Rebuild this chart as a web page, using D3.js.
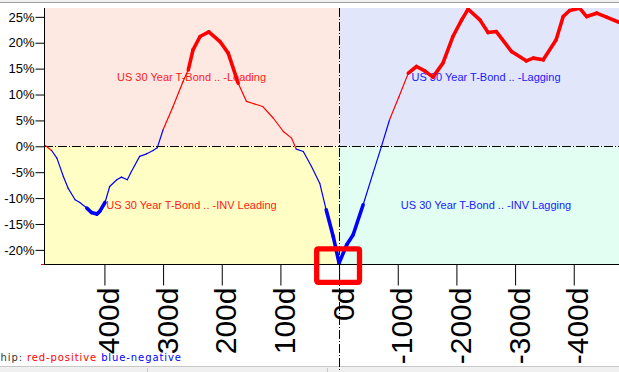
<!DOCTYPE html>
<html><head><meta charset="utf-8">
<script src="https://cdn.jsdelivr.net/npm/d3@7"></script>
<style>html,body{margin:0;padding:0;background:#fff;overflow:hidden}</style>
</head><body><svg id="c" width="619" height="372"></svg>
<script>
// ---- data (lag in days, correlation in %) ----
const lagDays = [501,490,481,470,462,450,442,430,422,413,408,399,391,379,371,361,354,340,328,317,310,300,283,266,257,249,237,222,203,189,172,158,144,130,112,95,81,73,61,47,33,22,10,0,-13,-24,-41,-58,-72,-86,-102,-118,-132,-146,-160,-177,-194,-209,-220,-240,-254,-268,-294,-319,-331,-348,-370,-382,-393,-410,-422,-439,-456,-476];
const corrPct = [0.15,-0.81,-2.28,-5.83,-8.07,-10.33,-10.85,-11.93,-12.78,-13.09,-12.57,-10.85,-7.76,-6.47,-5.95,-6.47,-4.86,-1.95,-1.45,-0.81,-0.3,3.19,7.68,12.51,14.77,18.63,21.2,22.1,20.23,17.99,12.19,8.68,8.17,7.68,5.42,2.86,1.58,-0.55,-1.0,-3.9,-7.12,-12.26,-17.41,-22.55,-19.02,-17.09,-11.29,-5.12,-0.1,5.12,9.56,14.13,15.41,14.58,13.36,16.06,21.2,24.42,26.48,24.42,21.97,22.16,18.3,16.51,17.03,16.7,20.56,25.06,26.22,26.67,25.06,25.71,24.94,24.0];
const significant = [0,0,0,0,0,0,0,1,1,1,1,1,0,0,0,0,0,0,0,0,0,0,0,0,1,1,1,1,1,1,1,0,0,0,0,0,0,0,0,0,0,1,1,1,1,1,1,0,0,0,0,1,1,1,1,1,1,1,1,1,1,1,1,1,1,1,1,1,1,1,1,1,1,1];
const yTickValues = [25,20,15,10,5,0,-5,-10,-15,-20];
const xTickValues = [400,300,200,100,0,-100,-200,-300,-400];
const quadrantLabels = ["US 30 Year T-Bond .. -Leading","US 30 Year T-Bond .. -Lagging","US 30 Year T-Bond .. -INV Leading","US 30 Year T-Bond .. -INV Lagging"];
const legendParts = ["Relationship: ","red-positive","blue-negative"];

const svg = d3.select("#c");
const W = 619, H = 372;
const L = 44, R = 633, T = 8, B = 264;
const x = d3.scaleLinear().domain([503, -501]).range([L, R]);
const y = d3.scaleLinear().domain([-22.73, 26.71]).range([B, T]);
const x0 = x(0), y0 = y(0);
const sans = "'Liberation Sans', Arial, sans-serif";

// window chrome
svg.append("rect").attr("x",0).attr("y",0).attr("width",W).attr("height",H).attr("fill","#fff");
svg.append("rect").attr("x",0).attr("y",0).attr("width",W).attr("height",2).attr("fill","#f0f0f0");
svg.append("line").attr("x1",0).attr("x2",W).attr("y1",2.5).attr("y2",2.5).attr("stroke","#a0a0a0");
svg.append("rect").attr("x",0).attr("y",367).attr("width",W).attr("height",5).attr("fill","#f0f0f0");
svg.append("line").attr("x1",0).attr("x2",W).attr("y1",366.5).attr("y2",366.5).attr("stroke","#c8c8c8");
[147.5, 327.5].forEach(px => svg.append("line").attr("x1",px).attr("x2",px).attr("y1",368).attr("y2",372).attr("stroke","#c8c8c8"));

// quadrants
const quads = [
  {x:L, y:T, w:x0-L, h:y0-T, c:"#fde9e1"},
  {x:x0, y:T, w:R-x0, h:y0-T, c:"#e1e6fb"},
  {x:L, y:y0, w:x0-L, h:B-y0, c:"#fffec4"},
  {x:x0, y:y0, w:R-x0, h:B-y0, c:"#e2fdf2"}
];
svg.selectAll("rect.q").data(quads).enter().append("rect").attr("class","q")
  .attr("x",d=>d.x).attr("y",d=>d.y).attr("width",d=>d.w).attr("height",d=>d.h).attr("fill",d=>d.c);

// quadrant labels
const lx = [(L+x0)/2, (x0+R)/2, (L+x0)/2, (x0+R)/2];
const ly = [81, 81, 209, 209];
const lc = ["#ff1a1a","#1a1aff","#ff1a1a","#1a1aff"];
quadrantLabels.forEach((t,i)=>{
  svg.append("text").attr("x",lx[i]).attr("y",ly[i]).attr("text-anchor","middle")
    .attr("font-family",sans).attr("font-size",11).attr("fill",lc[i]).text(t);
});

// reference lines
svg.append("line").attr("x1",L).attr("x2",R).attr("y1",Math.round(y0)+0.5).attr("y2",Math.round(y0)+0.5)
  .attr("stroke","#000").attr("stroke-dasharray","9,2,1,2");
svg.append("line").attr("x1",Math.round(x0)+0.5).attr("x2",Math.round(x0)+0.5).attr("y1",T).attr("y2",H)
  .attr("stroke","#000").attr("stroke-dasharray","9,2,1,2");

// curve
svg.append("clipPath").attr("id","pc").append("rect").attr("x",L).attr("y",T).attr("width",R-L).attr("height",B-T+2);
const g = svg.append("g").attr("clip-path","url(#pc)");
const pts = lagDays.map((d,i)=>({d, v:corrPct[i], s:significant[i]}));
const line = d3.line().x(p=>x(p.d)).y(p=>y(p.v));
const segs = [];
for (let i=0;i<pts.length-1;i++){
  segs.push({a:pts[i], b:pts[i+1], col: pts[i].v>=0 ? "#ff0000" : "#0000ff", thick: pts[i].s && pts[i+1].s});
}
segs.filter(s=>!s.thick).forEach(s=>{
  g.append("path").attr("d",line([s.a,s.b])).attr("fill","none").attr("stroke",s.col).attr("stroke-width",1.2).attr("stroke-linecap","round");
});
segs.filter(s=>s.thick).forEach(s=>{
  g.append("path").attr("d",line([s.a,s.b])).attr("fill","none").attr("stroke",s.col).attr("stroke-width",3.6).attr("stroke-linecap","round");
});

// y axis
const ya = svg.append("g").attr("transform",`translate(${L+0.5},0)`)
  .call(d3.axisLeft(y).tickValues(yTickValues).tickFormat(d=>d+"%").tickSize(9).tickPadding(1));
ya.select(".domain").remove();
ya.selectAll("line").attr("stroke","#000");
ya.selectAll("text").attr("font-family",sans).attr("font-size",13).attr("fill","#000");
svg.append("line").attr("x1",L+0.5).attr("x2",L+0.5).attr("y1",T).attr("y2",B).attr("stroke","#000");

// x axis
const xa = svg.append("g").attr("transform",`translate(0,${B+0.5})`)
  .call(d3.axisBottom(x).tickValues(xTickValues).tickFormat(d=>d+"d").tickSize(21));
xa.select(".domain").remove();
xa.selectAll("line").attr("stroke","#000");
xa.selectAll("text").attr("x",0).attr("y",0).attr("dy",0)
  .attr("transform","translate(14,23) rotate(-90)").attr("text-anchor","end")
  .attr("font-family",sans).attr("font-size",30).attr("fill","#000");
svg.append("line").attr("x1",L).attr("x2",R).attr("y1",B+0.5).attr("y2",B+0.5).attr("stroke","#000");
svg.append("line").attr("x1",41).attr("x2",44).attr("y1",B+0.5).attr("y2",B+0.5).attr("stroke","#ff0000");

// highlight box
svg.append("rect").attr("x",316.7).attr("y",248.8).attr("width",42.8).attr("height",33.5)
  .attr("fill","none").attr("stroke","#ff0000").attr("stroke-width",5.3).attr("rx",1.5).attr("stroke-linejoin","round");

// legend
const lg = svg.append("text").attr("y",361).attr("font-family","'DejaVu Sans', Verdana, sans-serif")
  .attr("font-size",10).attr("letter-spacing",0.9);
const t0 = lg.append("tspan").attr("fill","#333").text(legendParts[0]);
lg.append("tspan").attr("fill","#ff0000").text(legendParts[1]);
lg.append("tspan").attr("fill","#000").text(" ");
lg.append("tspan").attr("fill","#0000ff").text(legendParts[2]);
const w0 = t0.node().getComputedTextLength();
lg.attr("x", 27 - w0);
</script></body></html>
